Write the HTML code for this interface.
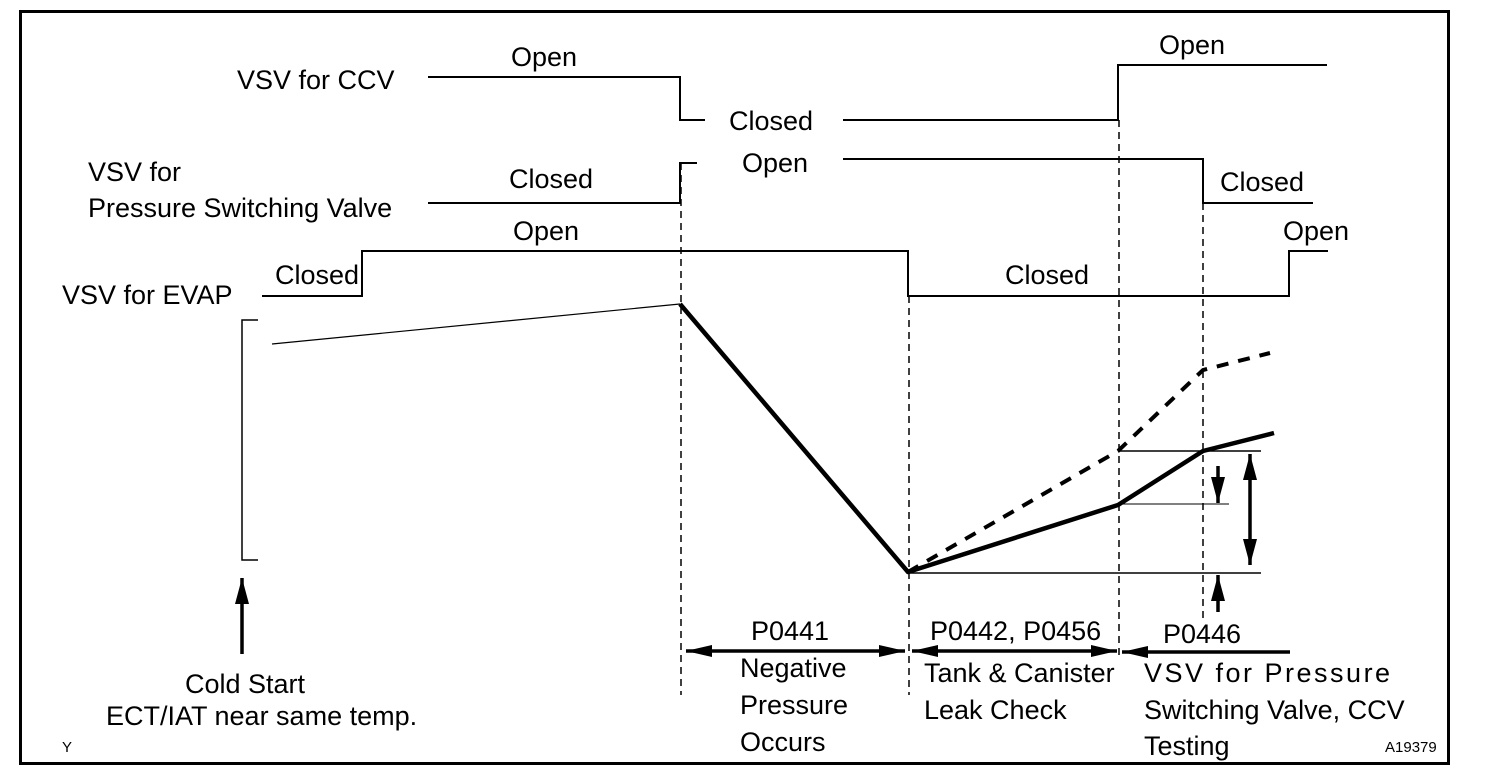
<!DOCTYPE html>
<html><head><meta charset="utf-8"><style>
html,body{margin:0;padding:0;background:#fff;}
svg{display:block;}
text{font-family:"Liberation Sans",Arial,sans-serif;font-size:27px;fill:#000;}
</style></head><body>
<svg width="1504" height="778" viewBox="0 0 1504 778" xmlns="http://www.w3.org/2000/svg">
<defs>
<marker id="ah" viewBox="0 0 26 12" refX="26" refY="6" markerWidth="26" markerHeight="12" markerUnits="userSpaceOnUse" orient="auto-start-reverse">
<path d="M0,0 L26,6 L0,12 Z" fill="#000"/></marker>
<marker id="av" viewBox="0 0 26 14" refX="26" refY="7" markerWidth="26" markerHeight="14" markerUnits="userSpaceOnUse" orient="auto-start-reverse">
<path d="M0,0 L26,7 L0,14 Z" fill="#000"/></marker>
</defs>
<rect x="20.5" y="11.5" width="1428" height="752" fill="none" stroke="#000" stroke-width="3"/>
<g fill="none" stroke="#000" stroke-width="2">
<polyline points="428,77 680,77 680,120 705,120"/>
<polyline points="843,120 1118,120 1118,65 1327,65"/>
<polyline points="428,203 680,203 680,163 697,163"/>
<polyline points="843,159 1203,159 1203,203 1313,203"/>
<polyline points="262,296 362,296 362,251 908,251 908,296 1289,296 1289,251 1328,251"/>
<polyline points="258,320 242,320 242,560 258,560" stroke-width="1.5"/>
<line x1="272" y1="344" x2="680" y2="304" stroke-width="1.2"/>
<line x1="908" y1="573" x2="1261" y2="573" stroke-width="1.5"/>
<line x1="1118" y1="451" x2="1261" y2="451" stroke-width="1.5"/>
<line x1="1118" y1="504" x2="1229" y2="504" stroke-width="1"/>
</g>
<polyline points="680,304 908,572 1118,505 1203,451 1274,433" fill="none" stroke="#000" stroke-width="4.5" stroke-linejoin="round"/>
<polyline points="908,572 1118,451 1203,370 1270,353" fill="none" stroke="#000" stroke-width="4" stroke-dasharray="12,10"/>
<g stroke="#000" stroke-width="1.5" stroke-dasharray="7,5">
<line x1="681" y1="163" x2="681" y2="695"/>
<line x1="909" y1="296" x2="909" y2="695"/>
<line x1="1119" y1="120" x2="1119" y2="660"/>
<line x1="1203" y1="203" x2="1203" y2="620"/>
</g>
<g stroke="#000" stroke-width="3.5">
<line x1="1218" y1="466" x2="1218" y2="503" marker-end="url(#av)"/>
<line x1="1218" y1="612" x2="1218" y2="575" marker-end="url(#av)"/>
<line x1="1250" y1="454" x2="1250" y2="565" marker-start="url(#av)" marker-end="url(#av)"/>
<line x1="242" y1="654" x2="242" y2="578" marker-end="url(#av)"/>
<line x1="686" y1="651" x2="905" y2="651" marker-start="url(#ah)" marker-end="url(#ah)"/>
<line x1="912" y1="651" x2="1117" y2="651" marker-start="url(#ah)" marker-end="url(#ah)"/>
<line x1="1290" y1="652" x2="1122" y2="652" marker-end="url(#ah)"/>
</g>
<text x="237" y="89">VSV for CCV</text>
<text x="511" y="66">Open</text>
<text x="729" y="130">Closed</text>
<text x="1159" y="54">Open</text>
<text x="88" y="181">VSV for</text>
<text x="88" y="217">Pressure Switching Valve</text>
<text x="509" y="188">Closed</text>
<text x="742" y="172">Open</text>
<text x="1220" y="191">Closed</text>
<text x="513" y="240">Open</text>
<text x="275" y="284">Closed</text>
<text x="62" y="304">VSV for EVAP</text>
<text x="1005" y="284">Closed</text>
<text x="1283" y="240">Open</text>
<text x="185" y="693">Cold Start</text>
<text x="106" y="725">ECT/IAT near same temp.</text>
<text x="751" y="640">P0441</text>
<text x="740" y="677">Negative</text>
<text x="740" y="714">Pressure</text>
<text x="740" y="751">Occurs</text>
<text x="930" y="640">P0442, P0456</text>
<text x="924" y="682">Tank &amp; Canister</text>
<text x="924" y="719">Leak Check</text>
<text x="1163" y="643">P0446</text>
<text x="1144" y="682" style="letter-spacing:2.5px">VSV for Pressure</text>
<text x="1144" y="719">Switching Valve, CCV</text>
<text x="1144" y="755">Testing</text>
<text x="62" y="752" style="font-size:15px">Y</text>
<text x="1385" y="752" style="font-size:15px">A19379</text>
</svg>
</body></html>
